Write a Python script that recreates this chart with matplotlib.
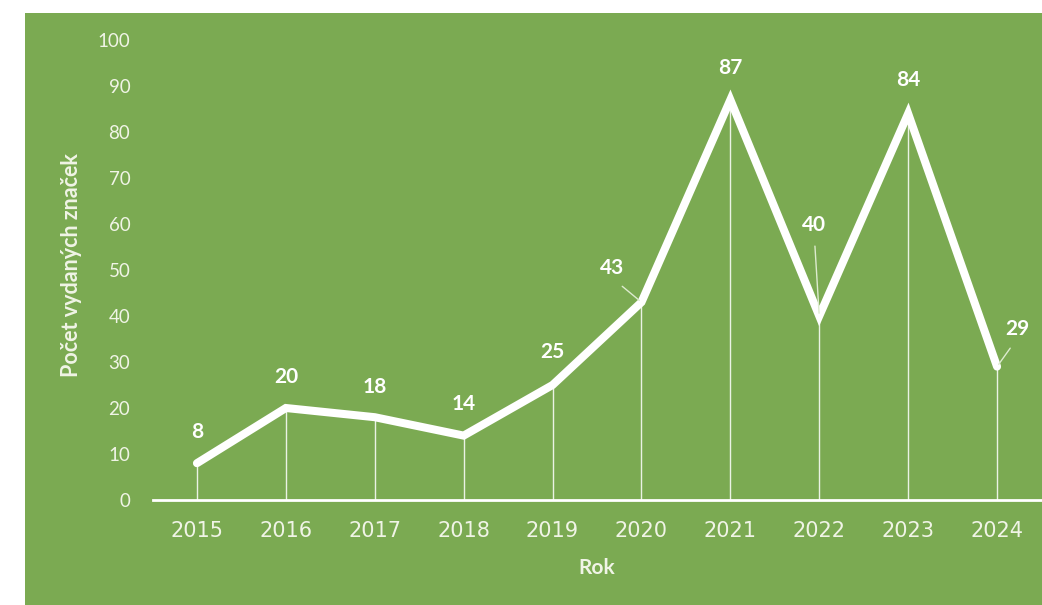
import matplotlib
matplotlib.use("Agg")
import matplotlib.pyplot as plt
from matplotlib.patches import Rectangle
from matplotlib.font_manager import FontProperties

W, H = 1042, 605
GREEN = "#7BAA52"
WHITE = "#FFFFFF"
TXT = "#F0F4E6"
FONT = ["Lato", "DejaVu Sans"]

years = ["2015", "2016", "2017", "2018", "2019", "2020", "2021", "2022", "2023", "2024"]
counts = [8, 20, 18, 14, 25, 43, 87, 40, 84, 29]
# posun popisku v pixelech (dx, dy); u tří bodů je vodicí čára
label_offsets = [(0, 31), (0, 31), (0, 30), (0, 32), (0, 33), (-29, 34),
                 (0, 32), (-5, 91), (0, 34), (20, 38)]
leaders = [False, False, False, False, False, True, False, True, False, True]

fig = plt.figure(figsize=(W / 100, H / 100), dpi=100)
fig.patch.set_facecolor("white")
fig.add_artist(Rectangle((25 / W, 0), 1 - 25 / W, (H - 13) / H,
                         transform=fig.transFigure, facecolor=GREEN,
                         edgecolor="none", zorder=0))

ax = fig.add_axes([152.5 / W, (H - 500) / H, (1041.5 - 152.5) / W, 460 / H])
ax.set_facecolor("none")
x = list(range(len(years)))

ax.vlines(x, 0, counts, color=WHITE, lw=1.0, alpha=0.85, zorder=2)
ax.plot(x, counts, color=WHITE, lw=5.8, solid_joinstyle="miter",
        solid_capstyle="round", zorder=3)

for xi, v, (dx, dy), ld in zip(x, counts, label_offsets, leaders):
    props = None
    if ld:
        props = dict(arrowstyle="-", color="#DDEBCF", lw=1.0,
                     shrinkA=6, shrinkB=2, relpos=(0.5, 0))
    ax.annotate(str(v), (xi, v), xytext=(dx * 0.72, dy * 0.72),
                textcoords="offset points", ha="center", va="center",
                color=WHITE, fontsize=15, fontweight="bold", family=FONT,
                arrowprops=props, zorder=4)

ax.set_xlim(-0.5, 9.5)
ax.set_ylim(0, 100)
ax.set_yticks(range(0, 101, 10))
ax.set_xticks(x)
ax.set_xticklabels(years)
for s in ["top", "right", "left"]:
    ax.spines[s].set_visible(False)
ax.spines["bottom"].set_color(WHITE)
ax.spines["bottom"].set_linewidth(2)
ax.tick_params(axis="both", length=0, colors=TXT)
ax.tick_params(axis="y", pad=16)
ax.tick_params(axis="x", pad=15)
for t in ax.get_yticklabels():
    t.set_fontproperties(FontProperties(family=FONT, size=13.5))
for t in ax.get_xticklabels():
    t.set_fontproperties(FontProperties(family="DejaVu Sans", size=15))

fig.text(72 / W, 1 - 265 / H, "Počet vydaných značek", rotation=90,
         ha="center", va="center", color=TXT, fontsize=15.5, fontweight="bold",
         family=FONT)
fig.text(597 / W, 1 - 568 / H, "Rok", ha="center", va="center",
         color=TXT, fontsize=15, fontweight="bold", family=FONT)

fig.savefig("out.png", dpi=100)
